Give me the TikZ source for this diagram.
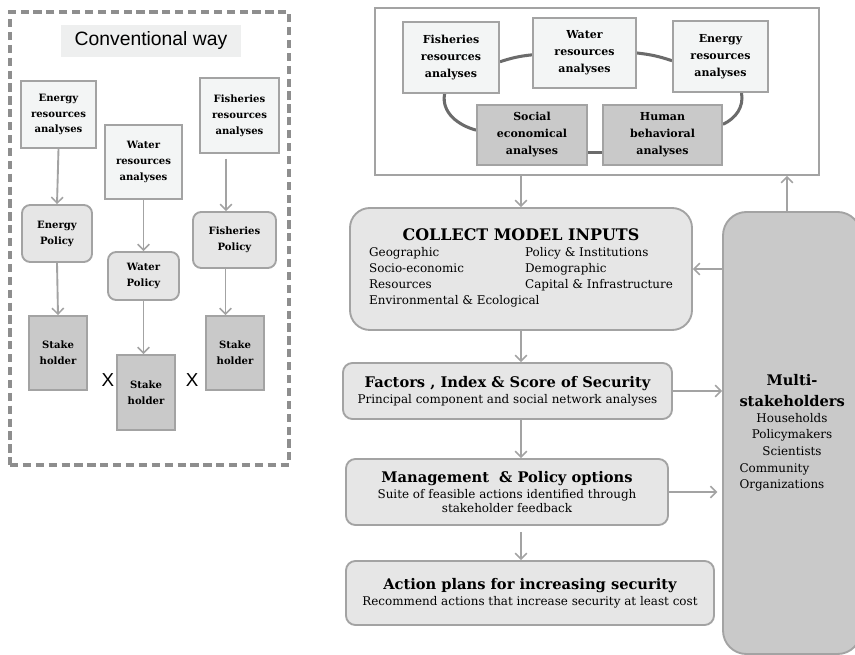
\documentclass[tikz,border=0pt]{standalone}
\usepackage{fontspec}
\setmainfont{DejaVu Serif}
\newfontfamily\labelfont{Liberation Sans}
\usepackage{tikz}
\usetikzlibrary{arrows.meta, positioning, calc, backgrounds}
\definecolor{framegray}{HTML}{8E8E8E}
\definecolor{edgegray}{HTML}{A3A3A3}
\definecolor{ringgray}{HTML}{6B6B6B}
\definecolor{anafill}{HTML}{F3F5F5}
\definecolor{polfill}{HTML}{E6E6E6}
\definecolor{holdfill}{HTML}{C9C9C9}
\definecolor{convfill}{HTML}{EEEFEF}
\newcommand{\boxfont}{\fontsize{8.6}{13.6}\selectfont\bfseries}
\newcommand{\headfont}{\fontsize{12.5}{15}\selectfont\bfseries}
\newcommand{\subfont}{\fontsize{10.2}{13.6}\selectfont}
\tikzset{
  % Analyses boxes
  anabox/.style={
    rectangle, draw=edgegray, fill=anafill, line width=1.6pt,
    font=\boxfont, align=center, inner sep=1pt,
  },
  % Policy boxes
  polbox/.style={
    rectangle, rounded corners=7pt, draw=edgegray, fill=polfill,
    line width=1.6pt, font=\boxfont, align=center, inner sep=1pt,
  },
  % Stakeholder boxes
  holderbox/.style={
    rectangle, draw=edgegray, fill=holdfill, line width=1.6pt,
    font=\boxfont, align=center, inner sep=1pt,
  },
  % Main flow steps
  stepbox/.style={
    rectangle, rounded corners=8pt, draw=edgegray, fill=polfill,
    line width=1.6pt, align=center, inner sep=2pt,
  },
  % Arrows
  flow/.style={-{Straight Barb[length=5pt, width=10pt, line width=1.3pt]},
    draw=edgegray, line width=1.6pt},
  ring/.style={draw=ringgray, line width=2.6pt},
}

\begin{document}
\begin{tikzpicture}[x=0.03cm, y=0.03cm]
  \useasboundingbox (0,0) rectangle (855,-655);

  % Conventional way
  \node[rectangle, draw=framegray, dashed, dash pattern=on 7pt off 4pt,
        line width=2.6pt, minimum width=8.37cm, minimum height=13.59cm]
        (convframe) at (149.5,-238.5) {};
  \node[fill=convfill, minimum width=5.4cm, minimum height=0.96cm,
        font=\labelfont\fontsize{16.5}{18}\selectfont] (convlabel) at (151,-41) {Conventional way};

  \node[anabox, minimum width=2.25cm, minimum height=2.01cm] (eres) at (58.5,-114.5)
    {Energy\\resources\\analyses};
  \node[anabox, minimum width=2.31cm, minimum height=2.22cm] (wres) at (143.5,-162)
    {Water\\resources\\analyses};
  \node[anabox, minimum width=2.37cm, minimum height=2.25cm] (fres) at (239.5,-115.5)
    {Fisheries\\resources\\analyses};

  \node[polbox, minimum width=2.1cm, minimum height=1.71cm] (epol) at (57,-233.5)
    {Energy\\Policy};
  \node[polbox, minimum width=2.13cm, minimum height=1.44cm] (wpol) at (143.5,-276)
    {Water\\Policy};
  \node[polbox, minimum width=2.49cm, minimum height=1.68cm] (fpol) at (234.5,-240)
    {Fisheries\\Policy};

  \node[holderbox, minimum width=1.74cm, minimum height=2.22cm] (esh) at (58,-353)
    {Stake\\holder};
  \node[holderbox, minimum width=1.74cm, minimum height=2.25cm] (wsh) at (146,-392.5)
    {Stake\\holder};
  \node[holderbox, minimum width=1.74cm, minimum height=2.22cm] (fsh) at (235,-353)
    {Stake\\holder};

  \node[font=\labelfont\fontsize{16}{18}\selectfont] (xleft) at (108,-380) {X};
  \node[font=\labelfont\fontsize{16}{18}\selectfont] (xright) at (192,-380) {X};

  \draw[flow] (eres.south) -- (epol.north);
  \draw[flow] (epol.south) -- (esh.north);
  \draw[flow] (wres.south) -- (wpol.north);
  \draw[flow] (wpol.south) -- (wpol.south |- wsh.north);
  \draw[flow] ([xshift=-0.405cm, yshift=-4pt]fres.south) -- ([xshift=-0.405cm]fres.south |- fpol.north);
  \draw[flow] ([xshift=-0.27cm]fpol.south) -- ([xshift=-0.27cm]fpol.south |- fsh.north);

  % Integrated analyses
  \node[rectangle, draw=edgegray, line width=1.6pt,
        minimum width=13.32cm, minimum height=5.01cm] (topbox) at (597,-91.5) {};

  \node[anabox, font=\fontsize{9.4}{14.5}\selectfont\bfseries,
        minimum width=2.88cm, minimum height=2.13cm] (tfish) at (451,-57.5)
    {Fisheries\\resources\\analyses};
  \node[anabox, font=\fontsize{9.4}{14.5}\selectfont\bfseries,
        minimum width=3.09cm, minimum height=2.1cm] (twat) at (584.5,-53)
    {Water\\resources\\analyses};
  \node[anabox, font=\fontsize{9.4}{14.5}\selectfont\bfseries,
        minimum width=2.85cm, minimum height=2.13cm] (tene) at (720.5,-56.5)
    {Energy\\resources\\analyses};
  \node[holderbox, font=\fontsize{9.4}{14.5}\selectfont\bfseries,
        minimum width=3.3cm, minimum height=1.8cm] (tsoc) at (532,-135)
    {Social\\economical\\analyses};
  \node[holderbox, font=\fontsize{9.4}{14.5}\selectfont\bfseries,
        minimum width=3.57cm, minimum height=1.8cm] (thum) at (662.5,-135)
    {Human\\behavioral\\analyses};

  \begin{scope}[on background layer]
    \draw[ring] (tfish.-5) to[bend left=6] (twat.182);
    \draw[ring] (twat.east) to[bend left=6] (tene.185);
    \draw[ring] (tfish.260) to[out=-100, in=165] (tsoc.175);
    \draw[ring] (tene.300) to[out=-80, in=25] (thum.10);
    \draw[ring] (tsoc.-17) -- (tsoc.-17 -| thum.west);
  \end{scope}

  % Framework steps
  \node[stepbox, rounded corners=17pt, minimum width=10.26cm, minimum height=3.66cm]
        (collect) at (521,-269) {%
    {\fontsize{13.6}{15}\selectfont\bfseries COLLECT MODEL INPUTS}\\[3.5pt]
    \subfont
    \begin{tabular}{@{}p{4.68cm}@{}l@{}}
      Geographic & Policy \& Institutions\\
      Socio-economic & Demographic\\
      Resources & Capital \& Infrastructure\\
      \multicolumn{2}{@{}l@{}}{Environmental \& Ecological}
    \end{tabular}};
  \node[stepbox, minimum width=9.87cm, minimum height=1.68cm] (factors) at (507.5,-391)
    {{\headfont Factors , Index \& Score of Security}\\[1.5pt]
     {\subfont Principal component and social network analyses}};
  \node[stepbox, minimum width=9.66cm, minimum height=1.98cm] (manage) at (507,-492)
    {{\headfont Management\ \ \& Policy options}\\[1.5pt]
     {\subfont Suite of feasible actions identified through}\\
     {\subfont stakeholder feedback}};
  \node[stepbox, minimum width=11.04cm, minimum height=1.92cm] (action) at (530,-593)
    {{\headfont Action plans for increasing security}\\[1.5pt]
     {\subfont Recommend actions that increase security at least cost}};

  % Stakeholders
  \node[rectangle, rounded corners=20pt, draw=edgegray, fill=holdfill, line width=1.6pt,
        minimum width=4.14cm, minimum height=13.26cm, text width=3.15cm, align=center,
        font=\subfont] (multi) at (792,-433)
    {{\fontsize{12.5}{17}\selectfont\bfseries Multi-}\\[4pt]
     {\fontsize{12.5}{15}\selectfont\bfseries stakeholders}\\
     Households\\[0.5pt]
     Policymakers\\[0.5pt]
     Scientists\\[0.5pt]
     \makebox[\linewidth][l]{Community}\\[0.5pt]
     \makebox[\linewidth][l]{Organizations}};

  % Arrows
  \draw[flow] (collect.north |- topbox.south) -- (collect.north);
  \draw[flow] ([xshift=-0.15cm]multi.north) -- ([xshift=-0.15cm]multi.north |- topbox.south);
  \draw[flow] (multi.west |- collect.east) -- (collect.east);
  \draw[flow] (factors.east) -- (factors.east -| multi.west);
  \draw[flow, shorten >=4pt] (manage.east) -- (manage.east -| multi.west);
  \draw[flow] (collect.south) -- (collect.south |- factors.north);
  \draw[flow] (collect.south |- factors.south) -- (collect.south |- manage.north);
  \draw[flow] ([yshift=-5pt]collect.south |- manage.south) -- (collect.south |- action.north);

\end{tikzpicture}
\end{document}
